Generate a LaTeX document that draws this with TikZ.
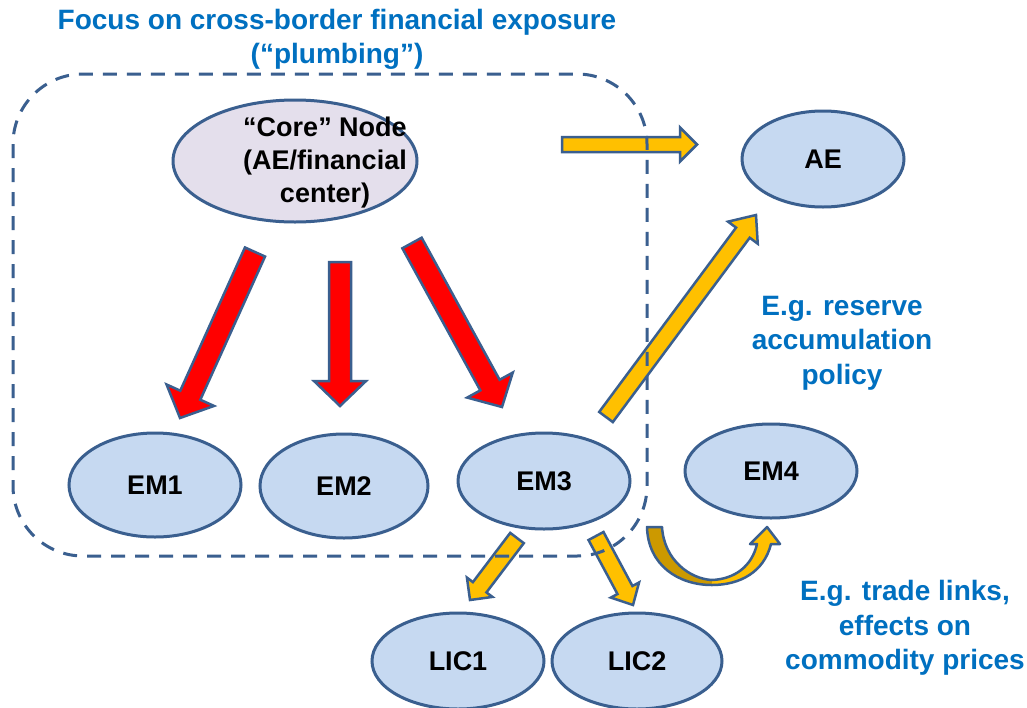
\documentclass[tikz,border=0pt]{standalone}
\usepackage{fontspec}
\setmainfont{Liberation Sans}
\usetikzlibrary{calc,shapes.geometric}
\definecolor{bord}{HTML}{3A5F8F}
\definecolor{elfill}{HTML}{C6D9F1}
\definecolor{corefill}{HTML}{E4DFEC}
\definecolor{ylw}{HTML}{FFC000}
\definecolor{dkylw}{HTML}{CC9900}
\definecolor{txtblue}{HTML}{0070C0}
\definecolor{redarr}{HTML}{FF0000}
\tikzset{
  ell/.style={ellipse, draw=bord, line width=3pt, fill=elfill, inner sep=0pt,
    font=\bfseries\fontsize{27}{33}\selectfont, align=center},
  bluetxt/.style={text=txtblue, font=\bfseries\fontsize{28}{34.5}\selectfont, align=center, inner sep=0pt},
  arrowborder/.style={draw=bord, line width=2.5pt, line join=miter},
  dashbox/.style={draw=bord, line width=3pt, dash pattern=on 14pt off 10pt, rounded corners=70pt}
}
\newcommand\blockarrow[6]{%
  \coordinate (hb) at ($(#2)!#5!(#1)$);
  \filldraw[arrowborder, fill=#6]
    ($(#1)!#3!90:(#2)$) -- ($(hb)!#3!90:(#2)$) -- ($(hb)!#4!90:(#2)$) -- (#2)
    -- ($(hb)!#4!-90:(#2)$) -- ($(hb)!#3!-90:(#2)$) -- ($(#1)!#3!-90:(#2)$) -- cycle;
}
\begin{document}
\begin{tikzpicture}[x=1pt,y=-1pt]
\useasboundingbox (0,0) rectangle (1027,707);
\fill[white] (0,0) rectangle (1027,707);

% title
\node[bluetxt] (title) at (337,39.5) {Focus on cross-border financial exposure\\(“plumbing”)};

% nodes
\node[ell, fill=corefill, minimum width=244pt, minimum height=122pt,
  label={[xshift=30pt, yshift=-2pt, inner sep=0pt, align=center, font=\bfseries\fontsize{27}{33}\selectfont]center:{“Core” Node\\(AE/financial\\center)}}] (core) at (295,161) {};
\node[ell, minimum width=162pt, minimum height=96pt] (ae) at (823,159) {AE};
\node[ell, minimum width=172pt, minimum height=104pt] (em1) at (155,485) {EM1};
\node[ell, minimum width=168pt, minimum height=104pt] (em2) at (344,486) {EM2};
\node[ell, minimum width=172pt, minimum height=96pt] (em3) at (544,481) {EM3};
\node[ell, minimum width=172pt, minimum height=94pt] (em4) at (771,471) {EM4};
\node[ell, minimum width=172pt, minimum height=96pt] (lic1) at (458,661) {LIC1};
\node[ell, minimum width=170pt, minimum height=96pt] (lic2) at (637,661) {LIC2};

% annotations
\node[bluetxt] (reserve) at (842,343) {E.g. reserve\\accumulation\\policy};
\node[bluetxt] (trade) at (905,628) {E.g. trade links,\\effects on\\commodity prices};

% arrow end coordinates
\coordinate (r1s) at (255,252); \coordinate (r1e) at (180,418);
\coordinate (r2s) at (340,262); \coordinate (r2e) at (340,406);
\coordinate (r3s) at (412,243); \coordinate (r3e) at (502,407);
\coordinate (y1s) at (562,144.5); \coordinate (y1e) at (697,144.5);
\coordinate (y2s) at (606,417); \coordinate (y2e) at (756,215);
\coordinate (y3s) at (517,538); \coordinate (y3e) at (470,600);
\coordinate (y4s) at (596,536); \coordinate (y4e) at (633,605);

\blockarrow{r1s}{r1e}{11pt}{26pt}{25pt}{redarr}
\blockarrow{r2s}{r2e}{11pt}{26pt}{25pt}{redarr}
\blockarrow{r3s}{r3e}{11pt}{26pt}{25pt}{redarr}
\blockarrow{y1s}{y1e}{7.5pt}{17pt}{17pt}{ylw}
\blockarrow{y2s}{y2e}{8.5pt}{18.5pt}{22pt}{ylw}
\blockarrow{y3s}{y3e}{8.5pt}{16pt}{16pt}{ylw}
\blockarrow{y4s}{y4e}{8.5pt}{16pt}{17pt}{ylw}

% curved U arrow
\fill[dkylw] (647,527) -- (662,527) .. controls (664,560) and (690,579) .. (712,580)
  -- (712,585) .. controls (678,585) and (648,565) .. (647,527) -- cycle;
\fill[ylw] (712,580) .. controls (735,579) and (752,566) .. (757,544) -- (750,544) -- (767,527)
  -- (780,544) -- (771,544) .. controls (764,572) and (740,585) .. (712,585) -- cycle;
\draw[arrowborder, line join=round] (647,527) -- (662,527) .. controls (664,560) and (690,579) .. (712,580)
  .. controls (735,579) and (752,566) .. (757,544) -- (750,544) -- (767,527)
  -- (780,544) -- (771,544) .. controls (764,572) and (740,585) .. (712,585)
  .. controls (678,585) and (648,565) .. (647,527) -- cycle;

% dashed focus box
\draw[dashbox] (13,74) rectangle (647,556);
\end{tikzpicture}
\end{document}
